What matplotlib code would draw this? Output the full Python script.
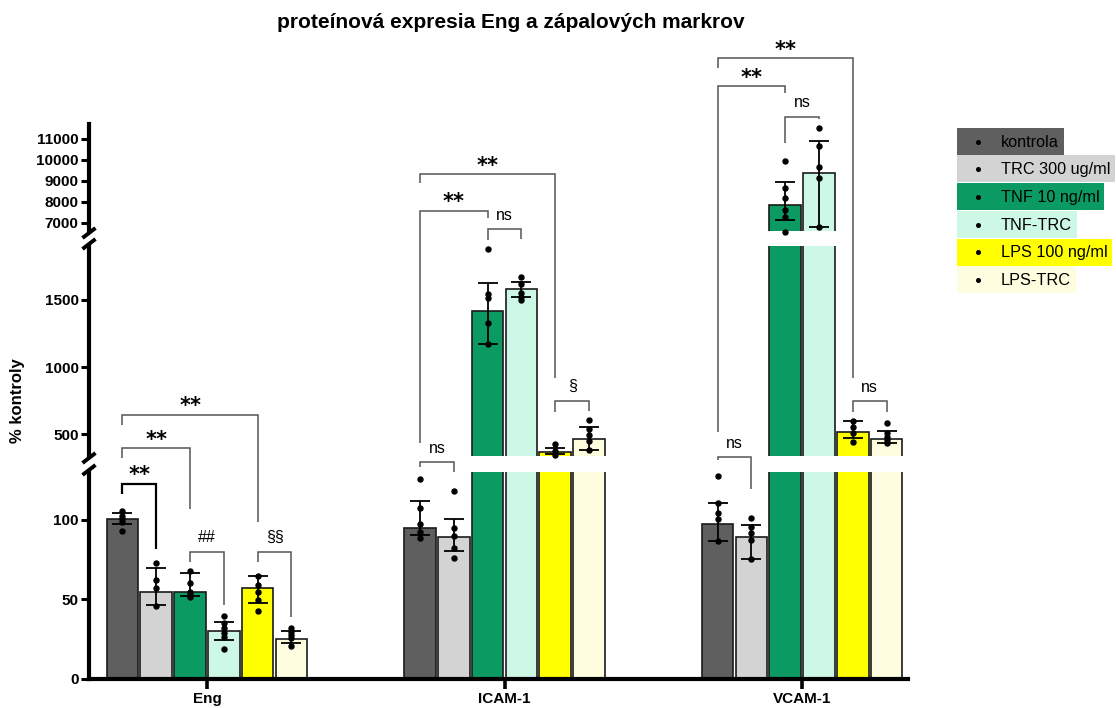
import matplotlib
matplotlib.use("Agg")
import matplotlib.pyplot as plt
from matplotlib.patches import Rectangle

plt.rcParams['font.family'] = ['Liberation Sans', 'DejaVu Sans']

W, H = 1116, 708

markers = ["Eng", "ICAM-1", "VCAM-1"]
groups = ["kontrola", "TRC 300 ug/ml", "TNF 10 ng/ml", "TNF-TRC", "LPS 100 ng/ml", "LPS-TRC"]
colors = ["#5f5f5f", "#d3d3d3", "#0a9a62", "#cdf8e6", "#ffff00", "#fffddf"]

# bar heights (% kontroly), one value per group
eng_bar = [100.5, 54.4, 54.4, 30.1, 57.4, 25.3]
icam_bar = [94.6, 89.4, 1417, 1583, 367, 464]
vcam_bar = [97.3, 89.0, 7839, 9350, 516, 464]

# whisker ends (lower / upper)
eng_lo = [97.3, 46.5, 52.3, 24.5, 47.9, 22.8]
eng_hi = [104.0, 69.9, 66.6, 35.6, 64.9, 30.1]
icam_lo = [90.4, 80.6, 1174, 1523, 355, 385]
icam_hi = [112.0, 100.3, 1623, 1635, 397, 553]
vcam_lo = [86.9, 75.6, 7110, 6805, 476, 434]
vcam_hi = [110.7, 96.5, 8950, 10875, 598, 528]

# individual replicates
eng_pts = [
    [105.7, 102.6, 100.5, 98.8, 92.9],
    [72.7, 62.2, 57.0, 46.0],
    [68.0, 60.0, 54.4, 53.4, 51.7],
    [39.6, 35.0, 31.8, 28.7, 26.6, 18.6],
    [64.9, 59.0, 54.8, 49.6, 42.9],
    [32.2, 29.7, 27.6, 25.5, 20.7],
]
icam_pts = [
    [125.4, 107.2, 97.3, 92.5, 88.4],
    [118.3, 94.6, 89.8, 82.1, 76.2],
    [1878, 1544, 1512, 1330, 1174],
    [1670, 1618, 1553, 1523, 1499],
    [429, 377, 347],
    [611, 537, 495, 452, 385],
]
vcam_pts = [
    [127.5, 110.3, 104.0, 100.3, 86.9],
    [101.3, 95.6, 91.5, 87.3, 75.6],
    [9951, 8635, 8159, 7601, 7282, 6567],
    [11495, 10651, 9665, 9112, 6805],
    [602, 553, 509, 446],
    [583, 509, 483, 459, 434],
]

bars = [eng_bar, icam_bar, vcam_bar]
los = [eng_lo, icam_lo, vcam_lo]
his = [eng_hi, icam_hi, vcam_hi]
pts = [eng_pts, icam_pts, vcam_pts]

# broken y axis: three stacked segments
seg_lims = [(0, 130), (340, 1900), (6600, 11700)]
seg_ticks = [[0, 50, 100], [500, 1000, 1500], [7000, 8000, 9000, 10000, 11000]]
seg_px = [(472, 679), (246, 456), (124, 231)]  # top / bottom pixel rows

PITCH = 0.1136
BAR_W = 0.1062
X_LEFT, X_RIGHT = -0.3966, 2.3697
AX_L, AX_R = 89, 908

fig = plt.figure(figsize=(W / 100, H / 100), dpi=100)

axes = []
for (top_px, bot_px) in seg_px:
    ax = fig.add_axes([AX_L / W, 1 - bot_px / H, (AX_R - AX_L) / W, (bot_px - top_px) / H])
    axes.append(ax)
ax_bot, ax_mid, ax_top = axes


def segment_of(v):
    if v < 250:
        return ax_bot
    if v < 4000:
        return ax_mid
    return ax_top


X_RIGHT = X_LEFT + (X_RIGHT - X_LEFT) * (AX_R - AX_L) / (912 - AX_L)

for ax, lim, ticks in zip(axes, seg_lims, seg_ticks):
    ax.set_xlim(X_LEFT, X_RIGHT)
    ax.set_ylim(*lim)
    ax.set_yticks(ticks)
    ax.set_yticklabels([str(t) for t in ticks], fontweight='bold', fontsize=11)
    ax.tick_params(axis='y', length=6, width=2.2, pad=1.5, colors='black')
    for s in ['top', 'right', 'bottom']:
        ax.spines[s].set_visible(False)
    ax.spines['left'].set_linewidth(3)
    ax.patch.set_visible(False)
    for g in range(len(markers)):
        for i in range(len(groups)):
            x = g + (i - 2.5) * PITCH
            ax.bar(x, bars[g][i], width=BAR_W, color=colors[i], edgecolor='#1a1a1a',
                   linewidth=1.2, zorder=2)

ax_bot.spines['bottom'].set_visible(True)
ax_bot.spines['bottom'].set_linewidth(3)
ax_bot.set_xticks(range(len(markers)))
ax_bot.set_xticklabels(markers, fontweight='bold', fontsize=11)
ax_bot.tick_params(axis='x', length=7, width=2.6, pad=2.5)
for ax in (ax_mid, ax_top):
    ax.set_xticks([])

# whiskers and replicate points
for g in range(len(markers)):
    for i in range(len(groups)):
        x = g + (i - 2.5) * PITCH
        m = bars[g][i]
        ax = segment_of(m)
        ax.errorbar(x, m, yerr=[[m - los[g][i]], [his[g][i] - m]], fmt='none',
                    ecolor='black', elinewidth=1.3, capsize=7, capthick=1.3,
                    zorder=4, clip_on=False)
        for v in pts[g][i]:
            segment_of(v).plot(x, v, 'o', color='black', markersize=3.6, zorder=5,
                               clip_on=False)

# overlay in pixel coordinates for annotations
ov = fig.add_axes([0, 0, 1, 1], zorder=10)
ov.set_xlim(0, W)
ov.set_ylim(H, 0)
ov.axis('off')


def px(g, i):
    return ax_bot.transData.transform((g + (i - 2.5) * PITCH, 0))[0]


# axis break marks
for yc in (233, 244, 458, 470):
    ov.plot([AX_L - 6.5, AX_L + 6.5], [yc + 5, yc - 5], color='black', lw=2.8,
            solid_capstyle='butt')

# significance brackets: group, left bar, right bar, top, left leg end, right leg end, label
brackets = [
    (0, 0, 1, 483.7, 494, 549, "**"),
    (0, 0, 2, 448.3, 458, 509, "**"),
    (0, 0, 4, 415, 425, 521.7, "**"),
    (0, 2, 3, 551.7, 561.7, 605, "##"),
    (0, 4, 5, 551.7, 561.7, 617, "§§"),
    (1, 0, 4, 174, 183.3, 377.6, "**"),
    (1, 0, 2, 210.7, 443, 218.3, "**"),
    (1, 2, 3, 229, 240, 239.3, "ns"),
    (1, 0, 1, 462.3, 466.7, 472.3, "ns"),
    (1, 4, 5, 400.7, 412, 411, "§"),
    (2, 0, 4, 58.3, 68.3, 378, "**"),
    (2, 0, 2, 86, 431.7, 93.3, "**"),
    (2, 2, 3, 116.7, 143.3, 119.3, "ns"),
    (2, 0, 1, 457.3, 460, 489.3, "ns"),
    (2, 4, 5, 401.3, 411.8, 411.8, "ns"),
]
for k, (g, a, b, top, yl, yr, lab) in enumerate(brackets):
    xa, xb = px(g, a), px(g, b)
    if k == 0:
        col, lw = 'black', 1.6
    else:
        col, lw = '#555555', 1.1
    ov.plot([xa, xa, xb, xb], [yl, top, top, yr], color=col, lw=lw,
            solid_joinstyle='miter', solid_capstyle='butt')
    if lab == "**":
        ov.text((xa + xb) / 2, top - 2.5, lab, ha='center', va='baseline',
                fontsize=15, fontweight='bold', family='DejaVu Sans', color='black')
    else:
        ov.text((xa + xb) / 2, top - 9.5, lab, ha='center', va='baseline',
                fontsize=11.5, color='black')

# legend with coloured rows
fig.canvas.draw()
renderer = fig.canvas.get_renderer()
ROW0, ROW_H = 127.7, 27.7
for i, (name, c) in enumerate(zip(groups, colors)):
    y0 = ROW0 + i * ROW_H
    t = ov.text(1000.7, y0 + ROW_H / 2 + 0.5, name, ha='left', va='center',
                fontsize=11.7, color='black', zorder=3)
    bb = t.get_window_extent(renderer)
    right = bb.x1 + 5
    ov.add_patch(Rectangle((957, y0), right - 957, ROW_H - 0.7, facecolor=c,
                           edgecolor='none', zorder=1))
    ov.plot(977.7, y0 + ROW_H / 2, 'o', color='black', markersize=2.6, zorder=4)

fig.text(511 / W, 1 - 23 / H, "proteínová expresia Eng a zápalových markrov",
         ha='center', va='center', fontsize=15, fontweight='bold')
fig.text(18 / W, 1 - 401 / H, "% kontroly", rotation=90, ha='center', va='center',
         fontsize=12, fontweight='bold')

fig.savefig("out.png", dpi=100)
